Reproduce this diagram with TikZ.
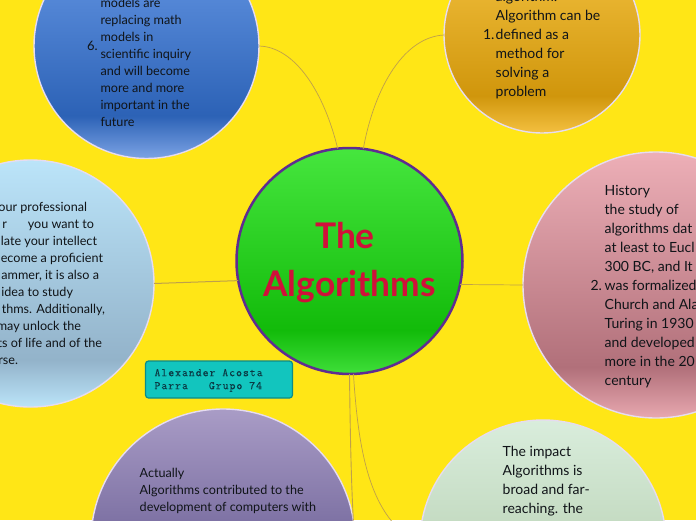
\documentclass[tikz,border=0pt]{standalone}
\usepackage{fontspec}
\setmainfont{Lato}
\newfontfamily\notefont[LetterSpace=8.3,FakeBold=0.25]{Latin Modern Mono}
\definecolor{bgyellow}{HTML}{FFE616}
\definecolor{linkc}{HTML}{BFA04A}
\definecolor{ringc}{HTML}{E6DCF0}
\definecolor{inkc}{HTML}{101418}
\definecolor{tophub}{HTML}{46E63E}\definecolor{darkhub}{HTML}{12BB0A}\definecolor{bottomhub}{HTML}{3FDF3A}
\definecolor{topblue}{HTML}{6A9BE8}\definecolor{darkblue}{HTML}{2C62B6}\definecolor{bottomblue}{HTML}{7CA3E4}
\definecolor{topsky}{HTML}{BBE4F9}\definecolor{darksky}{HTML}{93B3CA}\definecolor{bottomsky}{HTML}{BBE4F9}
\definecolor{toppink}{HTML}{EDAFB7}\definecolor{darkpink}{HTML}{B1707A}\definecolor{bottompink}{HTML}{E8A8B0}
\definecolor{topgold}{HTML}{F6C544}\definecolor{darkgold}{HTML}{D0960C}\definecolor{bottomgold}{HTML}{F4C040}
\definecolor{topviolet}{HTML}{A99CC6}\definecolor{darkviolet}{HTML}{584D86}\definecolor{bottomviolet}{HTML}{A99CC6}
\definecolor{topmint}{HTML}{D9EDDC}\definecolor{darkmint}{HTML}{B2CBAB}\definecolor{bottommint}{HTML}{D9EDDC}
\definecolor{hubring}{HTML}{5F2C91}
\definecolor{titlec}{HTML}{D0103A}
\definecolor{noteedge}{HTML}{0C8C88}
\definecolor{notefill}{HTML}{12C5BE}
\definecolor{notec}{HTML}{0A3A44}
% stops: 25bp = bottom of the circle, 75bp = top of the circle
\pgfdeclareverticalshading{shhub}{100bp}{color(0bp)=(bottomhub);color(25bp)=(bottomhub);color(34.7bp)=(darkhub);color(75bp)=(tophub);color(100bp)=(tophub)}
\pgfdeclareverticalshading{shblue}{100bp}{color(0bp)=(bottomblue);color(25bp)=(bottomblue);color(34.5bp)=(darkblue);color(75bp)=(topblue);color(100bp)=(topblue)}
\pgfdeclareverticalshading{shsky}{100bp}{color(0bp)=(bottomsky);color(25bp)=(bottomsky);color(34.5bp)=(darksky);color(75bp)=(topsky);color(100bp)=(topsky)}
\pgfdeclareverticalshading{shpink}{100bp}{color(0bp)=(bottompink);color(25bp)=(bottompink);color(34.5bp)=(darkpink);color(75bp)=(toppink);color(100bp)=(toppink)}
\pgfdeclareverticalshading{shgold}{100bp}{color(0bp)=(bottomgold);color(25bp)=(bottomgold);color(34.5bp)=(darkgold);color(75bp)=(topgold);color(100bp)=(topgold)}
\pgfdeclareverticalshading{shviolet}{100bp}{color(0bp)=(bottomviolet);color(25bp)=(bottomviolet);color(34.5bp)=(darkviolet);color(75bp)=(topviolet);color(100bp)=(topviolet)}
\pgfdeclareverticalshading{shmint}{100bp}{color(0bp)=(bottommint);color(25bp)=(bottommint);color(34.5bp)=(darkmint);color(75bp)=(topmint);color(100bp)=(topmint)}
\newcommand{\fl}{\rule{0pt}{12pt}}
\newcommand{\rgtat}[2]{\makebox[#1pt][r]{#2}}
\tikzset{
  bubble/.style={circle,draw=ringc,line width=1.4pt,inner sep=0pt,outer sep=0pt,minimum size=#1},
  hubdisc/.style={circle,draw=hubring,line width=2.5pt,inner sep=0pt,outer sep=0pt,minimum size=226pt,shading=shhub},
  link/.style={draw=linkc,line width=0.7pt},
  smalltext/.style={anchor=north west,inner sep=0pt,outer sep=0pt,align=left,text=inkc,font=\fontsize{12.6}{17}\selectfont},
  bigtext/.style={anchor=north west,inner sep=0pt,outer sep=0pt,align=left,text=inkc,font=\fontsize{14}{19}\selectfont},
  numlabel/.style={anchor=base west,inner sep=0pt,outer sep=0pt,text=inkc,font=\fontsize{13}{17}\selectfont},
  titletext/.style={anchor=north,inner sep=0pt,outer sep=0pt,align=center,text=titlec,font=\fontsize{35.3}{48}\selectfont\bfseries},
  notebox/.style={draw=noteedge,fill=notefill,line width=1.2pt,rounded corners=3pt,anchor=north west,inner sep=0pt,outer sep=0pt,minimum width=147pt,minimum height=37pt},
  notetext/.style={anchor=north west,inner sep=0pt,outer sep=0pt,align=left,text=notec,font=\notefont\fontsize{11.5}{13}\selectfont}
}
\begin{document}
\begin{tikzpicture}[x=1pt,y=-1pt]
\path[use as bounding box,fill=bgyellow] (0,0) rectangle (696,520);
% circles
\node[hubdisc] (hub) at (349.5,261) {};
\node[bubble=225pt,shading=shblue] (six) at (146.5,46) {};
\node[bubble=247pt,shading=shsky] (five) at (30.5,283.5) {};
\node[bubble=266pt,shading=shpink] (two) at (656,285) {};
\node[bubble=196pt,shading=shgold] (one) at (542,35) {};
\node[bubble=264pt,shading=shviolet] (four) at (223,541) {};
\node[bubble=246pt,shading=shmint] (three) at (543,543) {};
% connectors
\draw[link] (six.0) .. controls (295,47) and (324,92) .. (hub.96);
\draw[link] (one.180) .. controls (405,37) and (375,85) .. (hub.83.4);
\draw[link,line width=1pt] (five.0) -- (hub.190.6);
\draw[link] (two.180) -- (hub.348.3);
\draw[link,line width=0.9pt] (hub.270) .. controls (350,420) and (351,480) .. (four.9);
\draw[link] (hub.272.8) .. controls (358,445) and (368,520) .. (three.180);
% texts
\node[titletext] (title) at (349.5,221) {\rule{0pt}{27pt}The\hspace*{9pt}\\Algorithms};
\node[smalltext] (sixtext) at (100.5,-5) {\fl models are\\replacing math\\models in\\scientific inquiry\\and will become\\more and more\\important in the\\future};
\node[numlabel] (sixnum) at (87,50) {6.};
\node[smalltext] (fivetext) at (0,199) {\fl\rgtat{87}{our professional}\\\rgtat{94}{r\hspace{21pt}you want to}\\\rgtat{97}{late your intellect}\\\rgtat{103}{ecome a proficient}\\\rgtat{99}{ammer, it is also a}\\\rgtat{73}{idea to study}\\\rgtat{105}{thms. Additionally,}\\\rgtat{81}{may unlock the}\\\rgtat{102}{ts of life and of the}\\\rgtat{18}{rse.}};
\node[bigtext] (twotext) at (604.7,183) {\fl History\\the study of\\algorithms dat\\at least to Eucl\\300 BC, and It\\was formalized\\Church and Ala\\Turing in 1930\\and developed\\more in the 20\\century};
\node[numlabel,font=\fontsize{14}{19}\selectfont] (twonum) at (590.5,290) {2.};
\node[bigtext] (onetext) at (495.7,-10.5) {\fl algorithm:\\Algorithm can be\\defined as a\\method for\\solving a\\problem};
\node[numlabel,font=\fontsize{14}{19}\selectfont] (onenum) at (483,39) {1.};
\node[smalltext] (fourtext) at (139.7,465) {\fl Actually\\Algorithms contributed to the\\development of computers with};
\node[bigtext] (threetext) at (502.7,444) {\fl The impact\\Algorithms is\\broad and far-\\reaching. the};
% note
\node[notebox] (note) at (145.5,361) {};
\node[notetext] (notewords) at (154.5,369) {Alexander Acosta\\Parra\hspace{21pt}Grupo 74};
\end{tikzpicture}
\end{document}
